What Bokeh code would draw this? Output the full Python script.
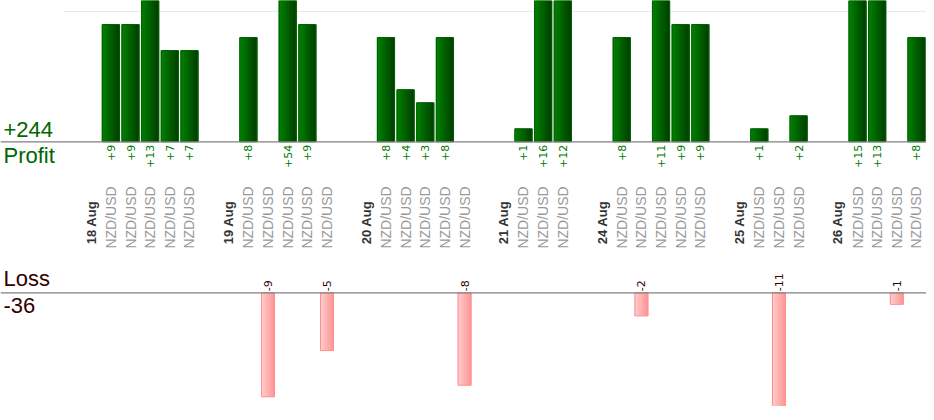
import numpy as np
from bokeh.plotting import figure
from bokeh.models import Range1d, ColumnDataSource, Span
from bokeh.core.properties import value
from bokeh.embed import file_html
from bokeh.resources import INLINE

# ---------------- data ----------------
slot_labels = [
    "18 Aug", "NZD/USD", "NZD/USD", "NZD/USD", "NZD/USD", "NZD/USD", "",
    "19 Aug", "NZD/USD", "NZD/USD", "NZD/USD", "NZD/USD", "NZD/USD", "",
    "20 Aug", "NZD/USD", "NZD/USD", "NZD/USD", "NZD/USD", "NZD/USD", "",
    "21 Aug", "NZD/USD", "NZD/USD", "NZD/USD", "",
    "24 Aug", "NZD/USD", "NZD/USD", "NZD/USD", "NZD/USD", "NZD/USD", "",
    "25 Aug", "NZD/USD", "NZD/USD", "NZD/USD", "",
    "26 Aug", "NZD/USD", "NZD/USD", "NZD/USD", "NZD/USD",
]
pnl = [
    None, 9, 9, 13, 7, 7, None,
    None, 8, -9, 54, 9, -5, None,
    None, 8, 4, 3, 8, -8, None,
    None, 1, 16, 12, None,
    None, 8, -2, 11, 9, 9, None,
    None, 1, -11, 2, None,
    None, 15, 13, -1, 8,
]
date_labels = ["18 Aug", "19 Aug", "20 Aug", "21 Aug", "24 Aug", "25 Aug", "26 Aug"]

# ---------------- derived ----------------
prof_x = [i for i, v in enumerate(pnl) if v is not None and v > 0]
prof_v = [pnl[i] for i in prof_x]
loss_x = [i for i, v in enumerate(pnl) if v is not None and v < 0]
loss_v = [pnl[i] for i in loss_x]
date_x = [i for i, s in enumerate(slot_labels) if s in date_labels]
date_t = [slot_labels[i] for i in date_x]
pair_x = [i for i, s in enumerate(slot_labels) if s == "NZD/USD"]
pair_t = [slot_labels[i] for i in pair_x]
total_profit = sum(prof_v)
total_loss = sum(loss_v)

# ---------------- layout constants ----------------
W, H = 926, 406
X_START, X_END = -4.616, 42.51
P_RANGE = (-20.31, 10.84)
L_RANGE = (-9.84, 25.31)
LEFT_X = X_START + 0.153
FONT = value("Liberation Sans")
VFONT = value("DejaVu Sans")


def hex2rgb(h):
    h = h.lstrip("#")
    return np.array([int(h[i:i + 2], 16) for i in (0, 2, 4)], dtype=float)


def grad(c1, c2, n):
    a, b = hex2rgb(c1), hex2rgb(c2)
    out = []
    for k in range(n):
        t = k / (n - 1)
        c = (a + (b - a) * t).round().astype(int)
        out.append("#%02x%02x%02x" % tuple(c))
    return out


def strips(xs, vals, width, c1, c2, n=8):
    cols = grad(c1, c2, n)
    X, T, C = [], [], []
    for x, v in zip(xs, vals):
        for k in range(n):
            X.append(x - width / 2 + (k + 0.5) * width / n)
            T.append(v)
            C.append(cols[k])
    return ColumnDataSource(dict(x=X, top=T, color=C)), width / n


p = figure(width=W, height=H, output_backend="svg", toolbar_location=None,
           x_range=Range1d(X_START, X_END), y_range=Range1d(*P_RANGE),
           x_axis_location=None, y_axis_location=None, min_border=0,
           outline_line_color=None, background_fill_color="white",
           border_fill_color="white")
p.extra_y_ranges = {"loss": Range1d(*L_RANGE)}
p.xgrid.visible = False
p.ygrid.visible = False

# faint gridline at profit 10
p.segment(x0=[-1.41], x1=[X_END], y0=[10], y1=[10], line_color="#e8e8e8", line_width=1)

# profit bars (gradient)
PW = 0.865
src, sw = strips(prof_x, prof_v, PW, "#008000", "#004400")
p.vbar(x="x", top="top", bottom=0, width=sw * 1.6, fill_color="color",
       line_color=None, source=src)
p.vbar(x=prof_x, top=prof_v, bottom=0, width=PW, fill_color=None,
       line_color="#005f00", line_width=1)

# loss bars (gradient)
LW = 0.66
src2, sw2 = strips(loss_x, loss_v, LW, "#ffcccc", "#ff9999")
p.vbar(x="x", top="top", bottom=0, width=sw2 * 1.6, fill_color="color",
       line_color=None, source=src2, y_range_name="loss")
p.vbar(x=loss_x, top=loss_v, bottom=0, width=LW, fill_color=None,
       line_color="#ff9090", line_width=1, y_range_name="loss")

# baselines
p.add_layout(Span(location=0, dimension="width", line_color="#808080", line_width=1.3))
p.add_layout(Span(location=0, dimension="width", line_color="#808080", line_width=1.3,
                  y_range_name="loss"))

# profit value labels
p.text(x=prof_x, y=[-0.23] * len(prof_x), text=["+%d" % v for v in prof_v],
       angle=np.pi / 2, text_align="right", text_baseline="middle",
       text_font=VFONT, text_font_size="11px", text_color="#007a00")

# loss value labels
p.text(x=loss_x, y=[0.14] * len(loss_x), text=["%d" % v for v in loss_v],
       angle=np.pi / 2, text_align="left", text_baseline="middle",
       text_font=VFONT, text_font_size="11px", text_color="#330000",
       y_range_name="loss")

# category labels
p.text(x=pair_x, y=[-5.81] * len(pair_x), text=pair_t, angle=np.pi / 2,
       text_align="center", text_baseline="middle", text_font=FONT,
       text_font_size="14px", text_color="#999999")
p.text(x=date_x, y=[-6.2] * len(date_x), text=date_t, angle=np.pi / 2,
       text_align="center", text_baseline="middle", text_font=FONT,
       text_font_size="13px", text_font_style="bold", text_color="#333333")

# totals
p.text(x=[LEFT_X], y=[0.98], text=["+%d" % total_profit], text_align="left",
       text_baseline="alphabetic", text_font=FONT, text_font_size="22px",
       text_color="#006600")
p.text(x=[LEFT_X], y=[-1.02], text=["Profit"], text_align="left",
       text_baseline="alphabetic", text_font=FONT, text_font_size="22px",
       text_color="#006600")
p.text(x=[LEFT_X], y=[1.21], text=["Loss"], text_align="left",
       text_baseline="alphabetic", text_font=FONT, text_font_size="22px",
       text_color="#330000", y_range_name="loss")
p.text(x=[LEFT_X], y=[-1.1], text=["%d" % total_loss], text_align="left",
       text_baseline="alphabetic", text_font=FONT, text_font_size="22px",
       text_color="#330000", y_range_name="loss")

open("out.html", "w").write(file_html(p, INLINE))
